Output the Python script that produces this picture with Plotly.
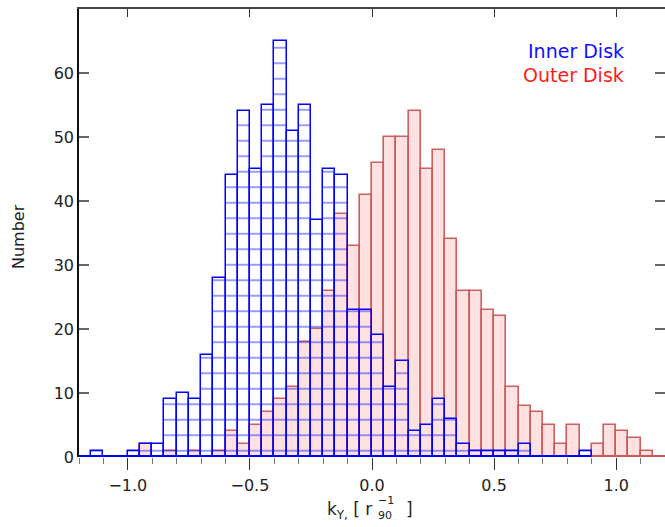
import plotly.graph_objects as go

# ---- data: histogram bins (width 0.05) starting at -1.20 ----
bin_start = -1.20
bin_width = 0.05

# Inner Disk counts, bins from -1.20 to 0.90
inner_counts = [0, 1, 0, 0, 1, 2, 2, 9, 10, 9, 16, 28,
                44, 54, 45, 55, 65, 51, 55, 37, 45, 44,
                23, 23, 19, 11, 15, 4, 5, 9, 6, 2,
                1, 1, 1, 1, 2, 0, 0, 0, 0, 1]

# Outer Disk counts, bins from -1.20 to 1.20
outer_counts = [0, 0, 0, 0, 0, 2, 0, 1, 0, 1, 0, 1,
                4, 2, 5, 7, 9, 11, 18, 20, 26, 38,
                33, 41, 46, 50, 50, 54, 45, 48, 34, 26,
                26, 23, 22, 11, 8, 7, 5, 2, 5, 0,
                2, 5, 4, 3, 1, 0]

x_ticks = [-1.0, -0.5, 0.0, 0.5, 1.0]
x_tick_labels = ["−1.0", "−0.5", "0.0", "0.5", "1.0"]
y_ticks = [0, 10, 20, 30, 40, 50, 60, 70]

inner_edges = [round(bin_start + i * bin_width, 4) for i in range(len(inner_counts))]
outer_edges = [round(bin_start + i * bin_width, 4) for i in range(len(outer_counts))]

fig = go.Figure()

fig.add_trace(go.Bar(
    x=outer_edges, y=outer_counts, width=bin_width, offset=0,
    marker=dict(color="#ffe1e1", line=dict(color="rgba(200,80,80,0.9)", width=1.6)),
    showlegend=False, name="Outer Disk"))

fig.add_trace(go.Bar(
    x=inner_edges, y=inner_counts, width=bin_width, offset=0,
    marker=dict(color="rgba(0,0,0,0)",
                line=dict(color="#0000ff", width=1.5),
                pattern=dict(shape="-", fgcolor="#0000ff", bgcolor="rgba(0,0,0,0)",
                             size=15.5, solidity=0.1, fillmode="overlay")),
    showlegend=False, name="Inner Disk"))

# histogram baselines (zero-count bins)
fig.add_trace(go.Scatter(
    x=[outer_edges[0], outer_edges[-1] + bin_width], y=[0, 0], mode="lines",
    line=dict(color="#d05a5a", width=4), showlegend=False, hoverinfo="skip"))
fig.add_trace(go.Scatter(
    x=[inner_edges[0], inner_edges[-1] + bin_width], y=[0, 0], mode="lines",
    line=dict(color="#0000ff", width=4), showlegend=False, hoverinfo="skip"))

W, H = 665, 527
ML, MR, MT, MB = 79, 0, 9, 70
PW, PH = W - ML - MR, H - MT - MB

def px(xp):
    return (xp - ML) / PW

def py(yp):
    return (H - MB - yp) / PH

font_fam = "DejaVu Sans"
fig.update_layout(
    width=W, height=H,
    margin=dict(l=ML, r=MR, t=MT, b=MB),
    paper_bgcolor="white", plot_bgcolor="white",
    barmode="overlay", bargap=0,
    font=dict(family=font_fam, size=16, color="#222"),
    xaxis=dict(range=[-1.2, 1.2], tickvals=x_ticks, ticktext=x_tick_labels,
               ticks="outside", ticklen=12, tickwidth=1.2, tickcolor="#333",
               ticklabelstandoff=2,
               minor=dict(dtick=0.1, tick0=0, ticks="outside", ticklen=6, tickwidth=1.2, tickcolor="#777"),
               showline=False, showgrid=False, zeroline=False,
               tickfont=dict(family=font_fam, size=16, color="#222")),
    xaxis2=dict(range=[-1.2, 1.2], overlaying="x", side="top", anchor="y", matches="x",
                tickvals=x_ticks, ticks="inside", ticklen=8, tickwidth=1.2, tickcolor="#333",
                showticklabels=False, showline=True, linecolor="#444", linewidth=1.5,
                showgrid=False, zeroline=False),
    yaxis=dict(range=[0, 70], tickvals=y_ticks, ticks="inside", ticklen=10, tickwidth=1.5,
               tickcolor="#666", showline=True, linecolor="#111", linewidth=1.5,
               showgrid=False, zeroline=False,
               tickfont=dict(family=font_fam, size=16, color="#222")),
    yaxis2=dict(range=[0, 70], overlaying="y", side="right", anchor="x", matches="y",
                tickvals=y_ticks, ticks="inside", ticklen=10, tickwidth=1.5, tickcolor="#666",
                showticklabels=False, showline=False, showgrid=False, zeroline=False),
)

# invisible trace so the mirrored axes exist
fig.add_trace(go.Scatter(x=[0], y=[0], xaxis="x2", yaxis="y2", mode="markers",
                         marker=dict(opacity=0), showlegend=False, hoverinfo="skip"))

annos = [
    dict(text="Inner Disk", x=px(626), y=py(51), xanchor="right", yanchor="middle",
         font=dict(family=font_fam, size=19, color="#1010ff")),
    dict(text="Outer Disk", x=px(626), y=py(75), xanchor="right", yanchor="middle",
         font=dict(family=font_fam, size=19, color="#ff1a1a")),
    dict(text="Number", x=px(18), y=py(237), xanchor="center", yanchor="middle", textangle=-90,
         font=dict(family=font_fam, size=16, color="#222")),
    dict(text="k<sub>Υ,</sub> [ r", x=px(374), y=py(511), xanchor="right", yanchor="middle",
         font=dict(family=font_fam, size=17, color="#222")),
    dict(text="−1", x=px(376), y=py(500), xanchor="left", yanchor="middle",
         font=dict(family=font_fam, size=11, color="#222")),
    dict(text="90", x=px(376), y=py(515), xanchor="left", yanchor="middle",
         font=dict(family=font_fam, size=11, color="#222")),
    dict(text="]", x=px(404), y=py(509), xanchor="left", yanchor="middle",
         font=dict(family=font_fam, size=17, color="#222")),
]
for a in annos:
    a.update(xref="paper", yref="paper", showarrow=False)
fig.update_layout(annotations=annos)

fig.write_html("out.html")
